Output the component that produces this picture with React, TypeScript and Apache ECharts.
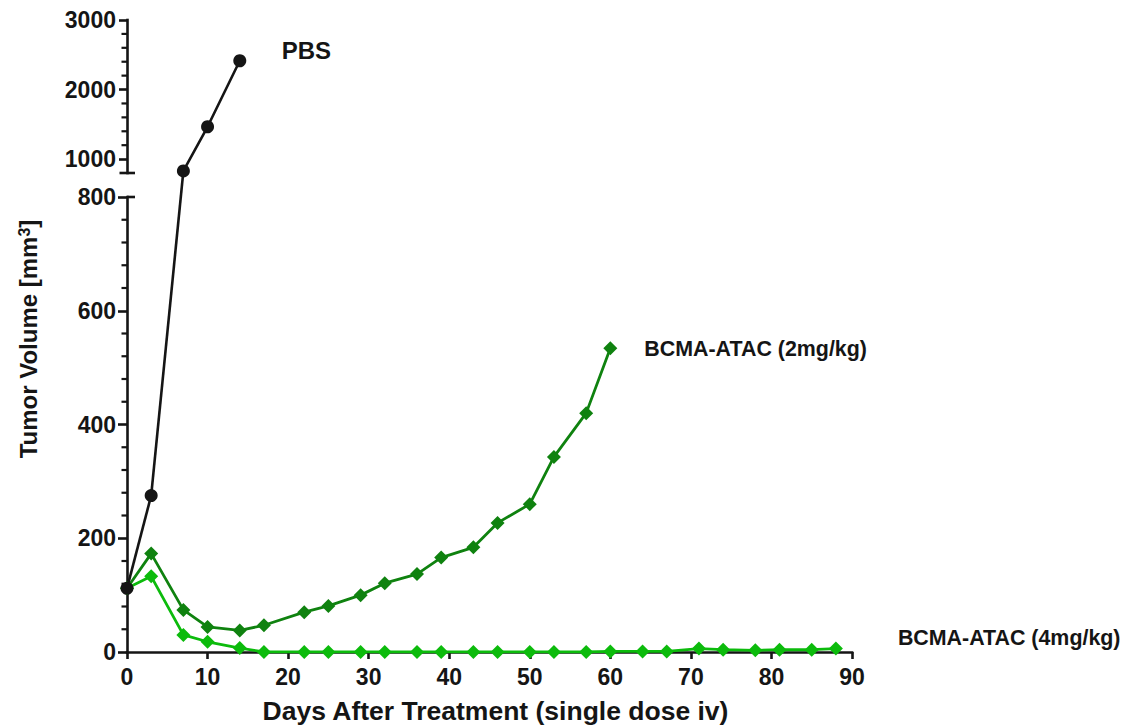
import React, { useEffect, useRef } from "react";
import * as echarts from "echarts";

// ---------- data ----------
const pbsDays = [0, 3, 7, 10, 14];
const pbsVolume = [112, 275, 830, 1465, 2414];

const dose2Days = [0, 3, 7, 10, 14, 17, 22, 25, 29, 32, 36, 39, 43, 46, 50, 53, 57, 60];
const dose2Volume = [112, 173, 74, 44, 38, 47, 70, 81, 100, 121, 137, 166, 184, 227, 260, 343, 420, 534];

const dose4Days = [0, 3, 7, 10, 14, 17, 22, 25, 29, 32, 36, 39, 43, 46, 50, 53, 57, 60, 64, 67, 71, 74, 78, 81, 85, 88];
const dose4Volume = [112, 133, 30, 18, 7, 0, 0, 0, 0, 0, 0, 0, 0, 0, 0, 0, 0, 1, 1, 1, 6, 4, 3, 4, 4, 6];

const seriesNames = ["PBS", "BCMA-ATAC (2mg/kg)", "BCMA-ATAC (4mg/kg)"];

// axis break: lower segment 0–800, upper segment 800–3000
const lowerRange = [0, 800];
const upperRange = [800, 3000];
const lowerInterval = 200;
const lowerMinorTicks = [40, 80, 120, 160, 240, 280, 320, 360, 440, 480, 520, 560, 640, 680, 720, 760];
const upperLabelTicks = [1000, 2000, 3000];
const upperMinorTicks = [1200, 1400, 1600, 1800, 2200, 2400, 2600, 2800];
const xRange = [0, 90];
const xInterval = 10;

const xTitle = "Days After Treatment (single dose iv)";

// ---------- styles ----------
const FONT = "'Liberation Sans', Arial, Helvetica, sans-serif";
const INK = "#151515";
const DARK_GREEN = "#0f820f";
const LIGHT_GREEN = "#0cbb0c";
const AXIS_W = 2.6;

const pairs = (xs: number[], ys: number[]) => xs.map((x, i) => [x, ys[i]]);

const pbsPairs = pairs(pbsDays, pbsVolume);
const pbsLower = pbsPairs.filter((p) => p[1] <= lowerRange[1]);
const pbsUpper = pbsPairs.filter((p) => p[1] > lowerRange[1]);

const labelStyle = {
  color: INK,
  fontWeight: "bold" as const,
  fontFamily: FONT,
  fontSize: 23,
  formatter: (v: number) => String(v),
};

function buildOption(): any {
  const grids = [
    { left: 127, right: 272, top: 197, bottom: 75, outerBoundsMode: "none", containLabel: false },
    { left: 127, right: 272, top: 20, height: 153, outerBoundsMode: "none", containLabel: false },
  ];
  const lineAxis = { show: true, onZero: false, lineStyle: { color: INK, width: AXIS_W, cap: "square" } };
  const xAxes = [
    {
      type: "value",
      gridIndex: 0,
      min: xRange[0],
      max: xRange[1],
      interval: xInterval,
      axisLine: lineAxis,
      axisTick: { show: true, length: 7, lineStyle: { color: INK, width: AXIS_W } },
      axisLabel: { ...labelStyle, margin: 13 },
      splitLine: { show: false },
      name: xTitle,
      nameLocation: "middle",
      nameGap: 44,
      nameTextStyle: {
        color: INK,
        fontWeight: "bold",
        fontFamily: FONT,
        fontSize: 26.5,
        lineHeight: 29,
        padding: [0, 0, 0, 12],
      },
    },
    { type: "value", gridIndex: 1, min: xRange[0], max: xRange[1], show: false },
  ];
  const yAxes = [
    {
      type: "value",
      gridIndex: 0,
      position: "left",
      min: lowerRange[0],
      max: lowerRange[1],
      interval: lowerInterval,
      axisLine: lineAxis,
      axisTick: { show: true, length: 9, lineStyle: { color: INK, width: AXIS_W } },
      axisLabel: { ...labelStyle, margin: 11 },
      splitLine: { show: false },
    },
    {
      type: "value",
      gridIndex: 1,
      position: "left",
      min: upperRange[0],
      max: upperRange[1],
      axisLine: lineAxis,
      axisTick: { show: true, length: 8, customValues: upperLabelTicks, lineStyle: { color: INK, width: AXIS_W } },
      axisLabel: { ...labelStyle, margin: 11, customValues: upperLabelTicks },
      splitLine: { show: false },
    },
  ];

  const endLabelBase = { show: true, color: INK, fontWeight: "bold", fontFamily: FONT, fontSize: 21.4, distance: 5 };

  const series = [
    {
      name: seriesNames[1],
      type: "line",
      xAxisIndex: 0,
      yAxisIndex: 0,
      data: pairs(dose2Days, dose2Volume),
      symbol: "diamond",
      symbolSize: 14,
      lineStyle: { color: DARK_GREEN, width: 2.8 },
      itemStyle: { color: DARK_GREEN },
      endLabel: { ...endLabelBase, formatter: seriesNames[1], offset: [29, 1] },
      z: 3,
    },
    {
      name: seriesNames[2],
      type: "line",
      xAxisIndex: 0,
      yAxisIndex: 0,
      data: pairs(dose4Days, dose4Volume),
      symbol: "diamond",
      symbolSize: 14,
      lineStyle: { color: LIGHT_GREEN, width: 2.8 },
      itemStyle: { color: LIGHT_GREEN },
      endLabel: { ...endLabelBase, formatter: seriesNames[2], offset: [57, -11] },
      z: 4,
    },
    {
      name: seriesNames[0],
      type: "line",
      xAxisIndex: 0,
      yAxisIndex: 0,
      data: pbsLower,
      symbol: "circle",
      symbolSize: 13,
      lineStyle: { color: INK, width: 2.6 },
      itemStyle: { color: INK },
      z: 5,
    },
    {
      name: seriesNames[0],
      type: "line",
      xAxisIndex: 1,
      yAxisIndex: 1,
      data: pbsUpper,
      symbol: "circle",
      symbolSize: 13,
      lineStyle: { color: INK, width: 2.6 },
      itemStyle: { color: INK },
      endLabel: { ...endLabelBase, fontSize: 24, formatter: seriesNames[0], offset: [37, -10] },
      z: 5,
    },
  ];

  return {
    animation: false,
    backgroundColor: "#ffffff",
    textStyle: { fontFamily: FONT },
    grid: grids,
    xAxis: xAxes,
    yAxis: yAxes,
    series,
    graphic: [
      {
        id: "ytitle",
        type: "text",
        x: 28,
        y: 339,
        rotation: Math.PI / 2,
        style: {
          text: "Tumor Volume [mm{sup|3}]",
          fill: INK,
          fontSize: 24,
          fontWeight: "bold",
          fontFamily: FONT,
          align: "center",
          verticalAlign: "middle",
          textAlign: "center",
          textVerticalAlign: "middle",
          rich: {
            sup: { fontSize: 16, fontWeight: "bold", fontFamily: FONT, fill: INK, verticalAlign: "top", lineHeight: 24 },
          },
        },
      },
    ],
  };
}

export default function App() {
  const ref = useRef<HTMLDivElement>(null);
  useEffect(() => {
    if (!ref.current) return;
    const chart = echarts.init(ref.current, null, { renderer: "svg" });
    chart.setOption(buildOption());

    const px = (finder: any, v: any) => chart.convertToPixel(finder, v) as any;
    const xLeft = px({ xAxisIndex: 0 }, xRange[0]) as number;
    const yLow = (v: number) => px({ yAxisIndex: 0 }, v) as number;
    const yUp = (v: number) => px({ yAxisIndex: 1 }, v) as number;
    const seg = (id: string, x1: number, y1: number, x2: number, y2: number, w: number) => ({
      id,
      type: "line",
      z: 1,
      shape: { x1, y1, x2, y2 },
      style: { stroke: INK, lineWidth: w },
    });

    const extra: any[] = [];
    // PBS line crossing the axis break
    const a = px({ seriesIndex: 2 }, pbsLower[pbsLower.length - 1]);
    const b = px({ seriesIndex: 3 }, pbsUpper[0]);
    extra.push(seg("bridge", a[0], a[1], b[0], b[1], 2.6));
    // minor ticks
    lowerMinorTicks.forEach((v, i) => extra.push(seg("lm" + i, xLeft - 5.5, yLow(v), xLeft + 1, yLow(v), 2.2)));
    upperMinorTicks.forEach((v, i) => extra.push(seg("um" + i, xLeft - 5.5, yUp(v), xLeft + 1, yUp(v), 2.2)));
    // break caps
    extra.push(seg("capLow", xLeft, yLow(lowerRange[1]), xLeft + 8, yLow(lowerRange[1]), AXIS_W));
    extra.push(seg("capUp", xLeft - 7.5, yUp(upperRange[0]), xLeft + 8, yUp(upperRange[0]), AXIS_W));

    chart.setOption({ graphic: extra });
    return () => chart.dispose();
  }, []);
  return (
    <div
      ref={ref}
      style={{ position: "fixed", left: 0, top: 0, width: 1124, height: 727, background: "#fff" }}
    />
  );
}
